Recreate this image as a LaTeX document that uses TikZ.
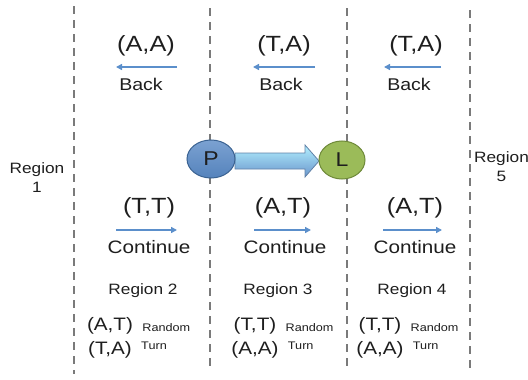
\documentclass[tikz,border=0pt]{standalone}
\usepackage{fontspec}
\setmainfont[FakeStretch=1.15]{Liberation Sans}
\usetikzlibrary{arrows.meta,shapes.geometric}
\definecolor{divider}{HTML}{7A7A7A}
\definecolor{flow}{HTML}{5B8FCB}
\definecolor{pblue}{HTML}{5A8AC6}
\definecolor{pborder}{HTML}{3A6291}
\definecolor{lgreen}{HTML}{9BBB59}
\definecolor{lborder}{HTML}{6F8A3A}
\definecolor{ink}{HTML}{1E1E1E}
\begin{document}
\begin{tikzpicture}[x=1pt,y=-1pt,
  divline/.style={divider,line width=2.4pt,dash pattern=on 8pt off 6pt},
  pair/.style={text=ink,font=\fontsize{22}{24}\selectfont,inner sep=0pt},
  back/.style={text=ink,font=\fontsize{17}{19}\selectfont,inner sep=0pt},
  cont/.style={text=ink,font=\fontsize{18}{20}\selectfont,inner sep=0pt},
  regname/.style={text=ink,font=\fontsize{15}{19}\selectfont,inner sep=0pt},
  small/.style={text=ink,font=\fontsize{18}{20}\selectfont,inner sep=0pt},
  tiny/.style={text=ink,font=\fontsize{11}{12}\selectfont,inner sep=0pt},
  move/.style={flow,line width=1.8pt,-{Triangle[length=6pt,width=6pt]}},
  player/.style={ellipse,minimum width=48pt,minimum height=38pt,line width=1pt,inner sep=0pt,font=\fontsize{20}{22}\selectfont,text=ink}]
\useasboundingbox (0,0) rectangle (528,380);

% region dividers
\draw[divline] (74,6) -- (74,374);
\draw[divline] (210,8) -- (210,368);
\draw[divline] (347,8) -- (347,368);
\draw[divline] (470,10) -- (470,368);

% outer region labels
\node[regname,align=center] (r1) at (37,178) {Region\\1};
\node[regname,align=center,anchor=north west] (r5) at (474,151) {Region\\\hspace*{0pt}5};

% "Back" moves (upper row)
\foreach \n/\x/\t/\xa/\xb/\xc in {b2/146/{(A,A)}/177/116/141, b3/284/{(T,A)}/315/253/281, b4/416/{(T,A)}/441/384/409}{
  \node[pair] (\n p) at (\x,46) {\t};
  \coordinate (\n s) at (\xa,67);
  \coordinate (\n e) at (\xb,67);
  \draw[move] (\n s) -- (\n e);
  \node[back] (\n v) at (\xc,84) {Back};
}

% "Continue" moves (lower row)
\foreach \n/\x/\t/\xa/\xb/\xc in {c2/149/{(T,T)}/116/177/149, c3/283/{(A,T)}/254/311/285, c4/415/{(A,T)}/383/442/415}{
  \node[pair] (\n p) at (\x,208) {\t};
  \coordinate (\n s) at (\xa,230);
  \coordinate (\n e) at (\xb,230);
  \draw[move] (\n s) -- (\n e);
  \node[cont] (\n v) at (\xc,247) {Continue};
}

% region names
\node[regname] (g2) at (143,291) {Region 2};
\node[regname] (g3) at (278,291) {Region 3};
\node[regname] (g4) at (412,291) {Region 4};

% random-turn states
\foreach \n/\x/\ta/\tb in {t2/110/{(A,T)}/{(T,A)}, t3/255/{(T,T)}/{(A,A)}, t4/380/{(T,T)}/{(A,A)}}{
  \node[small] (\n a) at (\x,326) {\ta};
  \node[small] (\n b) at (\x,350) {\tb};
  \node[tiny,anchor=west] (\n r) at ([xshift=9pt,yshift=-2pt]\n a.east) {Random};
  \node[tiny,anchor=west] (\n t) at ([xshift=9pt,yshift=-4pt]\n b.north east) {Turn};
}

% big arrow from P to L
\shade[top color=blue!20!cyan!30!white,bottom color=pblue!90,draw=pborder!80,line width=0.8pt]
  (235,153) -- (305,153) -- (305,145) -- (319,161) -- (305,177) -- (305,169) -- (235,169) -- cycle;

% players
\node[player,draw=pborder,top color=pblue!80,bottom color=pblue!95!black] (P) at (211,159) {P};
\node[player,draw=lborder,minimum width=46pt,fill=lgreen] (L) at (342,160) {L};
\end{tikzpicture}
\end{document}
